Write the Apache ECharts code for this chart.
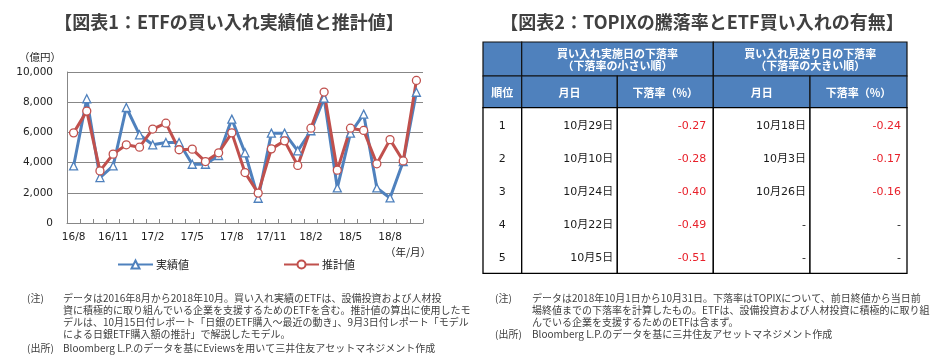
<!DOCTYPE html>
<html>
<head>
<meta charset="utf-8">
<script src="https://cdn.jsdelivr.net/npm/echarts@6/dist/echarts.min.js"></script>
<style>
html,body{margin:0;padding:0;background:#fff;}
#main{width:931px;height:360px;}
</style>
</head>
<body>
<div id="main"></div>
<script>
// ---------- Data: chart 1 ----------
const months = ['16/8','16/9','16/10','16/11','16/12','17/1','17/2','17/3','17/4','17/5','17/6','17/7','17/8','17/9','17/10','17/11','17/12','18/1','18/2','18/3','18/4','18/5','18/6','18/7','18/8','18/9','18/10'];
const actualValues = [3780, 8230, 3010, 3780, 7650, 5840, 5180, 5330, 5330, 3890, 3890, 4470, 6880, 4650, 1640, 5950, 5950, 4780, 6110, 8270, 2320, 5950, 7210, 2320, 1660, 4070, 8660];
const estimateValues = [5970, 7410, 3450, 4560, 5180, 5020, 6220, 6610, 4850, 4890, 4070, 4650, 5970, 3340, 1980, 4910, 5440, 3810, 6280, 8670, 3500, 6280, 6130, 3920, 5520, 4110, 9440];
const seriesNames = ['実績値', '推計値'];
const yTicks = [0, 2000, 4000, 6000, 8000, 10000];

// ---------- Data: table ----------
const ranks = [1, 2, 3, 4, 5];
const buyDates = ['10月29日', '10月10日', '10月24日', '10月22日', '10月5日'];
const buyRates = [-0.27, -0.28, -0.40, -0.49, -0.51];
const skipDates = ['10月18日', '10月3日', '10月26日', null, null];
const skipRates = [-0.24, -0.17, -0.16, null, null];
const groupHeaders = ['買い入れ実施日の下落率\n（下落率の小さい順）', '買い入れ見送り日の下落率\n（下落率の大きい順）'];
const colHeaders = ['順位', '月日', '下落率（%）', '月日', '下落率（%）'];

// ---------- Texts ----------
const title1 = '【図表1：ETFの買い入れ実績値と推計値】';
const title2 = '【図表2：TOPIXの騰落率とETF買い入れの有無】';
const notes1 = [
  'データは2016年8月から2018年10月。買い入れ実績のETFは、設備投資および人材投',
  '資に積極的に取り組んでいる企業を支援するためのETFを含む。推計値の算出に使用したモ',
  'デルは、10月15日付レポート「日銀のETF購入～最近の動き」、9月3日付レポート「モデル',
  'による日銀ETF購入額の推計」で解説したモデル。'
];
const source1 = 'Bloomberg L.P.のデータを基にEviewsを用いて三井住友アセットマネジメント作成';
const notes2 = [
  'データは2018年10月1日から10月31日。下落率はTOPIXについて、前日終値から当日前',
  '場終値までの下落率を計算したもの。ETFは、設備投資および人材投資に積極的に取り組',
  'んでいる企業を支援するためのETFは含まず。'
];
const source2 = 'Bloomberg L.P.のデータを基に三井住友アセットマネジメント作成';

// ---------- Styles / layout ----------
const BLUE = '#4F81BD', RED = '#C0504D', GRID = '#878787';
const JP = "'Noto Sans CJK JP', sans-serif";
const NUM = "'DejaVu Sans', 'Noto Sans CJK JP', sans-serif";
const colWidths = [38.7, 95.6, 96, 96.7, 97];
const rowHeights = [34, 31.6, 33.14, 33.14, 33.14, 33.14, 33.14];
const colEdges = [0]; colWidths.forEach(w => colEdges.push(colEdges[colEdges.length - 1] + w));
const rowEdges = [0]; rowHeights.forEach(h => rowEdges.push(rowEdges[rowEdges.length - 1] + h));
const tableW = colEdges[colEdges.length - 1], tableH = rowEdges[rowEdges.length - 1];

// build table cell items
const cells = [];
function hcell(c0, c1, r0, r1, text) {
  cells.push({ value: [colEdges[c0], rowEdges[r0], colEdges[c1], rowEdges[r1]], kind: 'head', text: text });
}
hcell(0, 1, 0, 1, '');
hcell(1, 3, 0, 1, groupHeaders[0]);
hcell(3, 5, 0, 1, groupHeaders[1]);
colHeaders.forEach((t, i) => hcell(i, i + 1, 1, 2, t));
for (let c = 0; c < 5; c++) {
  cells.push({ value: [colEdges[c], rowEdges[2], colEdges[c + 1], rowEdges[7]], kind: 'body', text: '' });
}
const fmtRate = v => (v == null ? '-' : v.toFixed(2));
ranks.forEach((rk, i) => {
  const r0 = rowEdges[2 + i], r1 = rowEdges[3 + i];
  const rowVals = [
    { t: String(rk), align: 'center', color: '#1a1a1a', pad: 0 },
    { t: buyDates[i] == null ? '-' : buyDates[i], align: 'right', color: '#1a1a1a', pad: 4 },
    { t: fmtRate(buyRates[i]), align: 'right', color: buyRates[i] == null ? '#1a1a1a' : '#E8202A', pad: 7 },
    { t: skipDates[i] == null ? '-' : skipDates[i], align: 'right', color: '#1a1a1a', pad: 4 },
    { t: fmtRate(skipRates[i]), align: 'right', color: skipRates[i] == null ? '#1a1a1a' : '#E8202A', pad: 6 }
  ];
  rowVals.forEach((v, c) => {
    cells.push({ value: [colEdges[c], r0, colEdges[c + 1], r1], kind: 'text', text: v.t, align: v.align, color: v.color, pad: v.pad });
  });
});

function renderCell(params, api) {
  const item = cells[params.dataIndex];
  const p0 = api.coord([api.value(0), api.value(1)]);
  const p1 = api.coord([api.value(2), api.value(3)]);
  const x = p0[0], y = p0[1], w = p1[0] - p0[0], h = p1[1] - p0[1];
  if (item.kind === 'head') {
    return {
      type: 'group', children: [
        { type: 'rect', shape: { x: x, y: y, width: w, height: h }, style: { fill: BLUE, stroke: '#111', lineWidth: 1.2 } },
        { type: 'text', style: { text: item.text, x: x + w / 2, y: y + h / 2 + 1, align: 'center', verticalAlign: 'middle', fill: '#fff', font: 'bold 11px ' + JP, lineHeight: 12.5 } }
      ]
    };
  } else if (item.kind === 'body') {
    return { type: 'rect', shape: { x: x, y: y, width: w, height: h }, style: { fill: '#fff', stroke: '#000', lineWidth: 1.3 } };
  } else {
    const tx = item.align === 'center' ? x + w / 2 : x + w - item.pad;
    return { type: 'text', style: { text: item.text, x: tx, y: y + h / 2 + 1.5, align: item.align, verticalAlign: 'middle', fill: item.color, font: '11px ' + NUM } };
  }
}

// graphic texts
const graphics = [];
function gtext(text, x, y, opts) {
  graphics.push({ type: 'text', silent: true, style: Object.assign({ text: text, x: x, y: y, fill: '#404040', font: '10px ' + JP, verticalAlign: 'middle' }, opts || {}) });
}
gtext('（億円）', 40, 57, { align: 'center', font: '10.5px ' + JP, fill: '#222' });
gtext('（年/月）', 408, 252, { align: 'center', font: '10.5px ' + JP, fill: '#222' });
const lh1 = 12;
gtext('(注)', 27, 298);
notes1.forEach((t, i) => gtext(t, 63, 298 + i * lh1));
gtext('(出所)', 27, 348);
gtext(source1, 63, 348);
const lh2 = 12;
gtext('(注)', 495, 298);
notes2.forEach((t, i) => gtext(t, 532, 298 + i * lh2));
gtext('(出所)', 495, 334);
gtext(source2, 532, 334);

const chart = echarts.init(document.getElementById('main'), null, { renderer: 'canvas' });
chart.setOption({
  animation: false,
  backgroundColor: '#fff',
  title: [
    { text: title1, left: 224, top: 8, textAlign: 'center', textStyle: { fontFamily: JP, fontWeight: 'bold', fontSize: 18, color: '#404040' } },
    { text: title2, left: 697, top: 8, textAlign: 'center', textStyle: { fontFamily: JP, fontWeight: 'bold', fontSize: 18, color: '#404040' } }
  ],
  legend: [
    { data: [seriesNames[0]], left: 112, top: 254, itemWidth: 35, itemHeight: 10, itemGap: 4, textStyle: { fontFamily: JP, fontSize: 11, color: '#222', padding: [0, 0, 0, -2] }, selectedMode: false },
    { data: [seriesNames[1]], left: 278, top: 254, itemWidth: 35, itemHeight: 10, itemGap: 4, textStyle: { fontFamily: JP, fontSize: 11, color: '#222', padding: [0, 0, 0, -2] }, selectedMode: false }
  ],
  grid: [
    { left: 67, top: 72, width: 356, height: 151 },
    { left: 483, top: 42, width: tableW, height: tableH }
  ],
  xAxis: [
    {
      gridIndex: 0, type: 'category', data: months, boundaryGap: true,
      axisLine: { lineStyle: { color: GRID, width: 1 } },
      axisTick: { show: true, inside: true, length: 4, interval: 0, lineStyle: { color: GRID } },
      axisLabel: { interval: 2, margin: 9, fontFamily: NUM, fontSize: 10.5, color: '#222' },
      splitLine: { show: false }
    },
    { gridIndex: 1, type: 'value', min: 0, max: tableW, show: false }
  ],
  yAxis: [
    {
      gridIndex: 0, type: 'value', min: yTicks[0], max: yTicks[yTicks.length - 1], interval: yTicks[1] - yTicks[0],
      axisLine: { show: true, lineStyle: { color: GRID, width: 1 } },
      axisTick: { show: false },
      axisLabel: { margin: 14, fontFamily: NUM, fontSize: 10.5, color: '#222', formatter: v => v.toLocaleString('en-US') },
      splitLine: { lineStyle: { color: GRID, width: 1 } }
    },
    { gridIndex: 1, type: 'value', min: 0, max: tableH, inverse: true, show: false }
  ],
  series: [
    {
      name: seriesNames[0], type: 'line', xAxisIndex: 0, yAxisIndex: 0, data: actualValues,
      symbol: 'triangle', symbolSize: 8, showAllSymbol: true,
      lineStyle: { color: BLUE, width: 3 },
      itemStyle: { color: '#fff', borderColor: BLUE, borderWidth: 1.3 }
    },
    {
      name: seriesNames[1], type: 'line', xAxisIndex: 0, yAxisIndex: 0, data: estimateValues,
      symbol: 'circle', symbolSize: 8, showAllSymbol: true,
      lineStyle: { color: RED, width: 3 },
      itemStyle: { color: '#fff', borderColor: RED, borderWidth: 1.3 }
    },
    {
      type: 'custom', xAxisIndex: 1, yAxisIndex: 1, clip: false, silent: true,
      data: cells, renderItem: renderCell
    }
  ],
  graphic: graphics
});
</script>
</body>
</html>
